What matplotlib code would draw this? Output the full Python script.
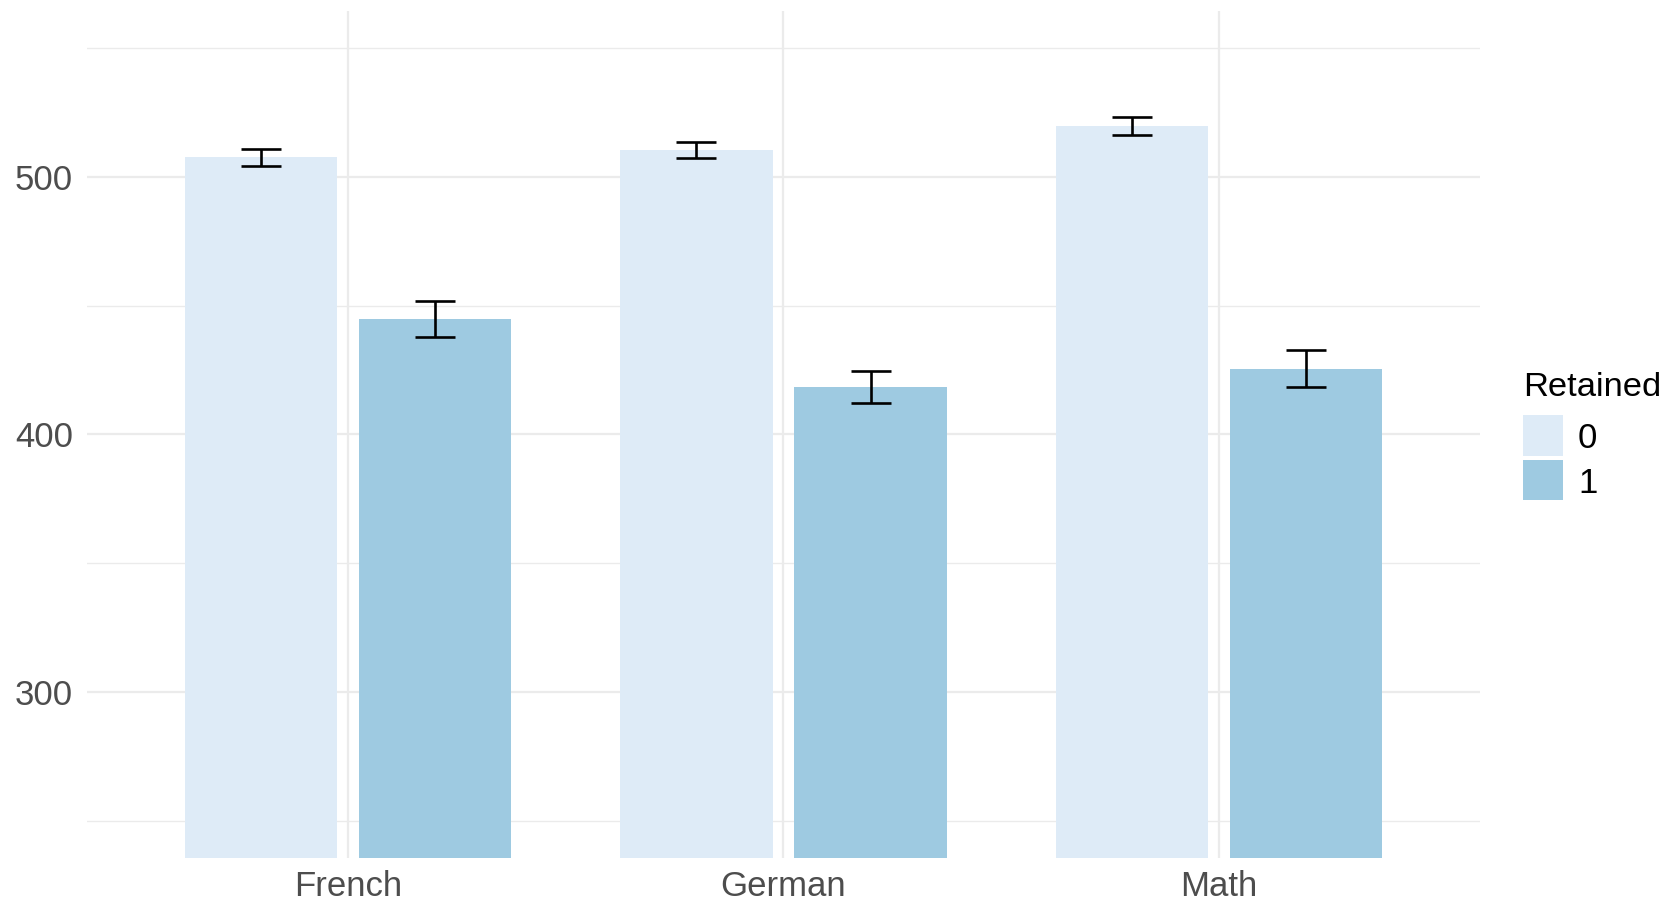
import numpy as np
import matplotlib
matplotlib.use('Agg')
import matplotlib.pyplot as plt
from matplotlib.patches import Rectangle
from matplotlib.ticker import MultipleLocator

plt.rcParams['font.family'] = ['Liberation Sans', 'DejaVu Sans']

subjects = ['French', 'German', 'Math']
retained_levels = ['0', '1']
means_0 = [507.6, 510.5, 519.7]
se_0 = [3.3, 3.1, 3.5]
means_1 = [444.8, 418.5, 425.6]
se_1 = [7.0, 6.2, 7.3]

colors = ['#DEEBF7', '#9ECAE1']
grid_color = '#EBEBEB'

W, H = 1670, 902
fig = plt.figure(figsize=(W / 100, H / 100), dpi=100)
ax = fig.add_axes([0.0521, 0.0488, 0.8341, 0.939])

x = np.arange(1, len(subjects) + 1)
bar_w = 0.35
offset = 0.2

# Bars + error bars per retained group
for means, se, col, off in [(means_0, se_0, colors[0], -offset),
                            (means_1, se_1, colors[1], offset)]:
    ax.bar(x + off, means, width=bar_w, color=col, zorder=2)
    ax.errorbar(x + off, means, yerr=se, fmt='none', ecolor='black',
                elinewidth=1.9, capsize=14.4, capthick=1.9, zorder=3)

ax.set_xlim(0.4, 3.6)
ax.set_ylim(235.5, 564.5)
ax.set_xticks(x)
ax.set_xticklabels(subjects)
ax.yaxis.set_major_locator(MultipleLocator(100))
ax.yaxis.set_minor_locator(MultipleLocator(50))

# theme_minimal look
for s in ax.spines.values():
    s.set_visible(False)
ax.set_axisbelow(True)
ax.grid(True, which='major', color=grid_color, linewidth=1.6)
ax.grid(True, which='minor', axis='y', color=grid_color, linewidth=1.0)
ax.tick_params(which='both', length=0, labelsize=25, colors='#4D4D4D')
ax.tick_params(axis='y', pad=10)
ax.tick_params(axis='x', pad=9)

# Legend (ggplot style, placed in pixel coords)
key_left, key_w, key_h, key_gap, key_top = 1523, 39.5, 40.5, 4, 415
fig.text(key_left / W, 1 - 396 / H, 'Retained', fontsize=24.8,
         ha='left', va='baseline', color='black')
for i, (lab, col) in enumerate(zip(retained_levels, colors)):
    top = key_top + i * (key_h + key_gap)
    fig.patches.append(Rectangle((key_left / W, 1 - (top + key_h) / H),
                                 key_w / W, key_h / H, facecolor=col,
                                 edgecolor='none', transform=fig.transFigure))
    fig.text(1578 / W, 1 - (top + key_h / 2) / H, lab, fontsize=25,
             ha='left', va='center_baseline', color='black')

fig.savefig('out.png', dpi=100)
